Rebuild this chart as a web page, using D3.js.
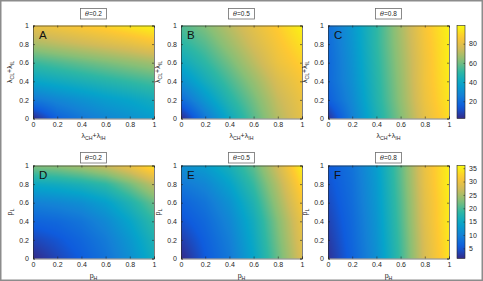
<!DOCTYPE html>
<html>
<head>
<meta charset="utf-8">
<script src="https://cdn.jsdelivr.net/npm/d3@7"></script>
<style>
  body { margin: 0; background: #fff; }
  svg { display: block; font-family: "Liberation Sans", Arial, sans-serif; }
</style>
</head>
<body>
<div id="chart"></div>
<script>
// grid nodes (both axes) and tick values
const gridPts = [0, 0.2, 0.4, 0.6, 0.8, 1];
const axisTicks = [0, 0.2, 0.4, 0.6, 0.8, 1];
const thetaLabels = ["0.2", "0.5", "0.8"];
const panelLetters = ["A", "B", "C", "D", "E", "F"];
const topTicksCb = [20, 40, 60, 80];
const botTicksCb = [5, 10, 15, 20, 25, 30, 35];
const topRange = [2, 99];
const botRange = [1.2, 36];

// values, rows: y = 0 .. 1 (bottom to top), cols: x = 0 .. 1
const panelA = [
  [2, 16, 23, 28, 32, 36],
  [23, 28, 32, 36, 39, 43],
  [39, 42, 45, 48, 51, 54],
  [52, 55, 58, 61, 64, 67],
  [68, 71, 74, 77, 80, 84],
  [81, 84, 87, 90, 94, 98]
];
const panelB = [
  [2, 23, 41, 56, 70, 80],
  [19, 34, 48, 60, 73, 82],
  [31, 43, 54, 65, 77, 85],
  [41, 50, 60, 71, 82, 89],
  [49, 56, 66, 76, 85, 93],
  [55, 62, 71, 80, 88, 97]
];
const panelC = [
  [4, 26, 45, 62, 80, 92],
  [15, 29, 47, 64, 82, 94],
  [18, 31, 48, 65, 83, 95],
  [18, 32, 49, 66, 83, 96],
  [19, 33, 50, 67, 84, 96],
  [20, 34, 50, 68, 85, 97]
];
const panelD = [
  [1.2, 3.6, 5.7, 8.2, 11.6, 15.8],
  [3.6, 5.0, 6.8, 9.2, 12.7, 16.9],
  [6.4, 7.1, 8.5, 10.9, 14.4, 18.6],
  [9.9, 10.6, 11.6, 13.7, 17.2, 21.4],
  [15.1, 15.8, 16.9, 18.6, 22.1, 26.3],
  [22.8, 23.5, 24.9, 27.0, 30.0, 34.3]
];
const panelE = [
  [1.2, 5.4, 8.9, 14.4, 21.4, 28.3],
  [2.9, 6.1, 9.6, 15.1, 22.1, 29.0],
  [4.7, 7.1, 10.6, 15.8, 22.8, 29.7],
  [6.4, 8.5, 12.0, 17.2, 24.2, 31.1],
  [8.9, 10.6, 14.1, 19.0, 25.6, 32.9],
  [11.6, 13.4, 16.5, 21.0, 27.6, 35.0]
];
const panelF = [
  [1.9, 6.4, 11.6, 19.3, 28.0, 33.9],
  [2.6, 6.8, 12.0, 19.6, 28.3, 34.3],
  [3.3, 7.1, 12.3, 20.0, 28.7, 34.6],
  [4.0, 7.5, 12.7, 20.3, 29.0, 34.6],
  [4.7, 7.8, 13.0, 20.7, 29.4, 35.0],
  [5.4, 8.2, 13.4, 21.0, 29.7, 35.0]
];

// parula-like colour stops
const parula = ["#352a87", "#0f5cdd", "#1481d6", "#06a4ca", "#2eb7a4",
                "#87bf77", "#d1bb59", "#fec832", "#f9fb0e"];

const width = 483, height = 281;
const colX = [[33, 154], [181, 302], [328, 449]];
const rowY = [[25.5, 118.5], [165.5, 258.5]];
const cbX = [457, 465];

const svg = d3.select("#chart").append("svg")
  .attr("width", width)
  .attr("height", height);

svg.append("rect")
  .attr("x", 0.75).attr("y", 0.75)
  .attr("width", width - 1.5).attr("height", height - 1.5)
  .attr("fill", "#fff")
  .attr("stroke", "#8c8c8c")
  .attr("stroke-width", 1.5);

const defs = svg.append("defs");

function bilinear(grid, u, v) {
  const n = gridPts.length - 1;
  const fx = Math.min(Math.max(u, 0), 1) * n, fy = Math.min(Math.max(v, 0), 1) * n;
  const i = Math.min(Math.floor(fx), n - 1), j = Math.min(Math.floor(fy), n - 1);
  const tx = fx - i, ty = fy - j;
  const a = grid[j][i], b = grid[j][i + 1], c = grid[j + 1][i], d = grid[j + 1][i + 1];
  return (a * (1 - tx) + b * tx) * (1 - ty) + (c * (1 - tx) + d * tx) * ty;
}

// label with subscripts: parts = [[main, sub], ...]
function subLabel(sel, parts) {
  let shifted = false;
  parts.forEach(([main, sub]) => {
    sel.append("tspan").attr("dy", shifted ? -2 : 0).text(main);
    shifted = false;
    if (sub) {
      sel.append("tspan").attr("font-size", "5.2px").attr("dy", 2).text(sub);
      shifted = true;
    }
  });
}

const panels = [panelA, panelB, panelC, panelD, panelE, panelF];

panels.forEach((grid, k) => {
  const row = Math.floor(k / 3), col = k % 3;
  const range = row === 0 ? topRange : botRange;
  const color = d3.scaleSequential(d3.piecewise(d3.interpolateRgb, parula)).domain(range);
  const x = d3.scaleLinear().domain([0, 1]).range(colX[col]);
  const y = d3.scaleLinear().domain([0, 1]).range([rowY[row][1], rowY[row][0]]);

  const x0 = colX[col][0], y0 = rowY[row][0];
  const w = Math.round(colX[col][1] - x0), h = Math.round(rowY[row][1] - y0);

  // heatmap raster
  const canvas = document.createElement("canvas");
  canvas.width = w; canvas.height = h;
  const ctx = canvas.getContext("2d");
  const img = ctx.createImageData(w, h);
  for (let py = 0; py < h; py++) {
    for (let px = 0; px < w; px++) {
      const u = x.invert(x0 + px + 0.5), v = y.invert(y0 + py + 0.5);
      const c = d3.rgb(color(bilinear(grid, u, v)));
      const o = (py * w + px) * 4;
      img.data[o] = c.r; img.data[o + 1] = c.g; img.data[o + 2] = c.b; img.data[o + 3] = 255;
    }
  }
  ctx.putImageData(img, 0, 0);
  svg.append("image")
    .attr("x", x0).attr("y", y0)
    .attr("width", w).attr("height", h)
    .attr("preserveAspectRatio", "none")
    .attr("href", canvas.toDataURL());

  // axes (ticks inside, MATLAB-like)
  const fmt = d => d === 0 || d === 1 ? d3.format("d")(d) : d3.format(".1f")(d);
  const g = svg.append("g");
  g.append("g").attr("transform", `translate(0,${rowY[row][1]})`)
    .call(d3.axisBottom(x).tickValues(axisTicks).tickSize(-2).tickPadding(4).tickFormat(fmt));
  g.append("g").attr("transform", `translate(${x0},0)`)
    .call(d3.axisLeft(y).tickValues(axisTicks).tickSize(-2).tickPadding(4).tickFormat(fmt));
  g.append("g").attr("transform", `translate(0,${y0})`)
    .call(d3.axisTop(x).tickValues(axisTicks).tickSize(-2).tickFormat(""));
  g.append("g").attr("transform", `translate(${colX[col][1]},0)`)
    .call(d3.axisRight(y).tickValues(axisTicks).tickSize(-2).tickFormat(""));
  g.selectAll(".domain").attr("stroke", "#262626").attr("stroke-width", 0.6);
  g.selectAll(".tick line").attr("stroke", "#262626").attr("stroke-width", 0.6);
  g.selectAll(".tick text").attr("font-size", "7px").attr("fill", "#262626")
    .attr("font-family", "Liberation Sans, Arial, sans-serif");

  // panel letter
  svg.append("text")
    .attr("x", x0 + 6).attr("y", y0 + 13.5)
    .attr("font-size", "11.5px").attr("fill", "#111")
    .text(panelLetters[k]);

  // title box
  const cx = (colX[col][0] + colX[col][1]) / 2;
  const by = row === 0 ? 8.5 : 152.5;
  svg.append("rect")
    .attr("x", cx - 13).attr("y", by)
    .attr("width", 26).attr("height", 10.5)
    .attr("fill", "#fff").attr("stroke", "#6e6e6e").attr("stroke-width", 0.8);
  const tt = svg.append("text")
    .attr("x", cx).attr("y", by + 7.8)
    .attr("text-anchor", "middle")
    .attr("font-size", "6.5px").attr("fill", "#262626");
  tt.append("tspan").attr("font-style", "italic").attr("font-family", "DejaVu Serif, serif").text("θ");
  tt.append("tspan").text("=" + thetaLabels[col]);

  // axis labels
  const xl = svg.append("text")
    .attr("x", cx).attr("y", row === 0 ? 138 : 277.5)
    .attr("text-anchor", "middle")
    .attr("font-size", "7px").attr("fill", "#262626");
  const yl = svg.append("text")
    .attr("transform", `translate(${x0 - 21},${(rowY[row][0] + rowY[row][1]) / 2}) rotate(-90)`)
    .attr("text-anchor", "middle")
    .attr("font-size", "7px").attr("fill", "#262626");
  if (row === 0) {
    subLabel(xl, [["λ", "CH"], ["+λ", "IH"]]);
    subLabel(yl, [["λ", "CL"], ["+λ", "IL"]]);
  } else {
    subLabel(xl, [["p", "H"]]);
    subLabel(yl, [["p", "L"]]);
  }
});

// colorbars
[topRange, botRange].forEach((range, row) => {
  const id = "cb" + row;
  const color = d3.scaleSequential(d3.piecewise(d3.interpolateRgb, parula)).domain(range);
  const grad = defs.append("linearGradient").attr("id", id)
    .attr("x1", 0).attr("y1", 1).attr("x2", 0).attr("y2", 0);
  d3.range(0, 1.0001, 0.05).forEach(t => {
    grad.append("stop").attr("offset", t)
      .attr("stop-color", color(range[0] + t * (range[1] - range[0])));
  });
  const yc = d3.scaleLinear().domain(range).range([rowY[row][1], rowY[row][0]]);
  svg.append("rect")
    .attr("x", cbX[0]).attr("y", rowY[row][0])
    .attr("width", cbX[1] - cbX[0]).attr("height", rowY[row][1] - rowY[row][0])
    .attr("fill", `url(#${id})`)
    .attr("stroke", "#262626").attr("stroke-width", 0.6);
  const ga = svg.append("g").attr("transform", `translate(${cbX[1]},0)`)
    .call(d3.axisRight(yc).tickValues(row === 0 ? topTicksCb : botTicksCb).tickSize(-1.5).tickPadding(4));
  ga.select(".domain").remove();
  ga.selectAll(".tick line").attr("stroke", "#262626").attr("stroke-width", 0.6);
  ga.selectAll(".tick text").attr("font-size", "7px").attr("fill", "#262626")
    .attr("font-family", "Liberation Sans, Arial, sans-serif");
});
</script>
</body>
</html>
